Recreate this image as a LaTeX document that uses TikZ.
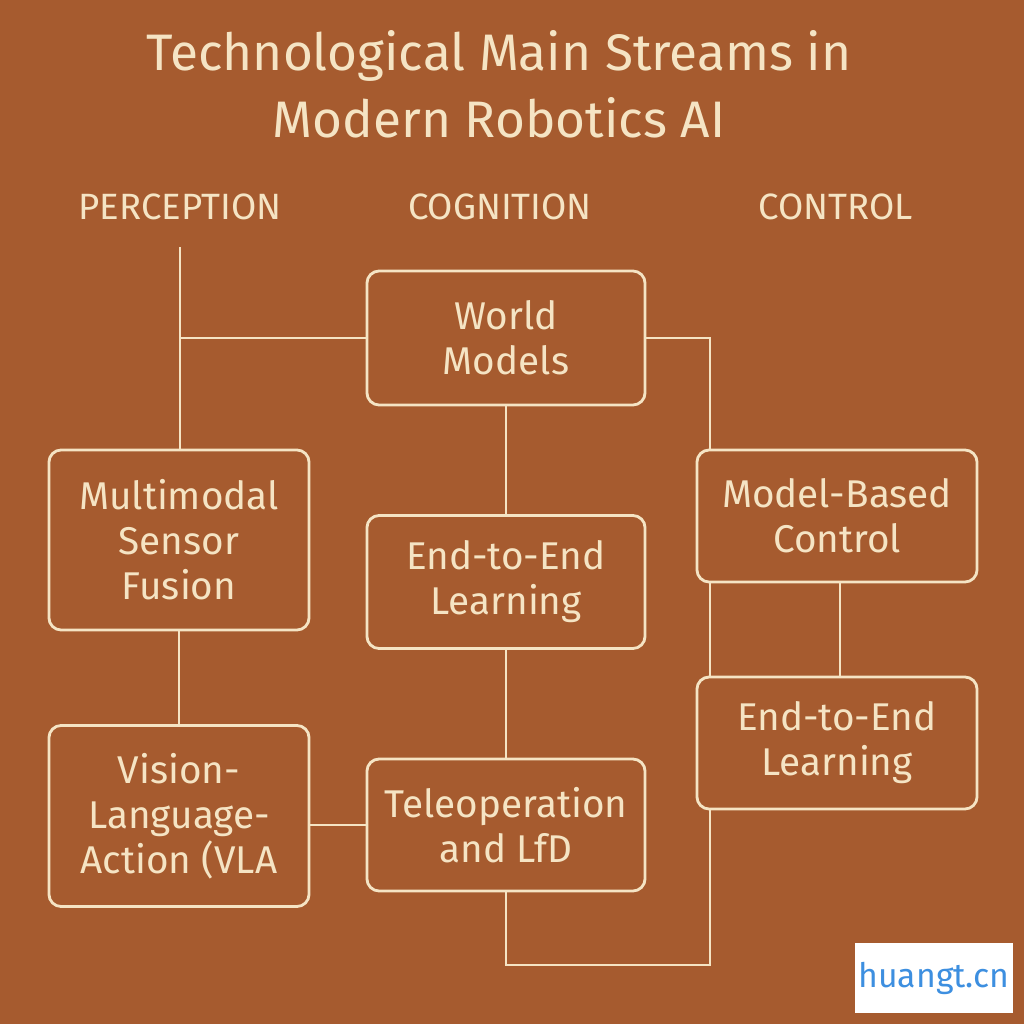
\documentclass[tikz,border=0pt]{standalone}
\usepackage{fontspec}
\setmainfont{Fira Sans}
\usetikzlibrary{positioning}
\definecolor{rust}{HTML}{A65B2F}
\definecolor{cream}{HTML}{F5E4C4}
\definecolor{wmblue}{HTML}{3D8FE0}
\tikzstyle{block} = [rectangle, rounded corners=3.5pt, draw = cream, line width=0.8pt, text = cream, align=center, font=\fontsize{11}{12.8}\selectfont]
\tikzstyle{head} = [text = cream, font=\fontsize{10.4}{12}\selectfont]
\tikzstyle{link} = [draw = cream, line width=0.8pt]

\begin{document}
\begin{tikzpicture}[x=0.01cm, y=-0.01cm]
\fill[rust] (0,0) rectangle (1024,1024);
\useasboundingbox (0,0) rectangle (1024,1024);

\node[text=cream, align=center, font=\fontsize{14.6}{19}\selectfont] (title) at (499,84) {Technological Main Streams in\\Modern Robotics AI};
\node(percep) [head] at (180,207) {PERCEPTION};
\node(cogn)   [head] at (500,207) {COGNITION};
\node(contr)  [head] at (836,207) {CONTROL};

\node(world)    [block, minimum width=2.78cm, minimum height=1.34cm] at (506,338) {World\\Models};
\node(fusion)   [block, minimum width=2.60cm, minimum height=1.80cm] at (179,540) {Multimodal\\Sensor\\Fusion};
\node(etemid)   [block, minimum width=2.78cm, minimum height=1.33cm] at (506,582) {End-to-End\\Learning};
\node(mbc)      [block, minimum width=2.80cm, minimum height=1.32cm] at (837,516) {Model-Based\\Control};
\node(vla)      [block, minimum width=2.60cm, minimum height=1.81cm] at (179,816) {Vision-\\Language-\\Action (VLA};
\node(teleop)   [block, minimum width=2.78cm, minimum height=1.32cm] at (506,825) {Teleoperation\\and LfD};
\node(eteright) [block, minimum width=2.80cm, minimum height=1.32cm] at (837,743) {End-to-End\\Learning};

\coordinate (ptop) at (180,247);
\coordinate (bot) at (506,965);
\coordinate (xr) at (710,0);
\coordinate (xc) at (840,0);

\draw [link] (ptop) -- (fusion.north -| ptop);
\draw [link] (world.west) -- (world.west -| ptop);
\draw [link] (world.east) -| (mbc.north -| xr);
\draw [link] (world) -- (etemid);
\draw [link] (etemid) -- (teleop);
\draw [link] (fusion) -- (vla);
\draw [link] (vla.east |- teleop.west) -- (teleop.west);
\draw [link] (mbc.south -| xr) -- (eteright.north -| xr);
\draw [link] (mbc.south -| xc) -- (eteright.north -| xc);
\draw [link] (teleop.south) -- (bot) -| (eteright.south -| xr);

\node(wm) [fill=white, inner sep=0pt, minimum width=1.58cm, minimum height=0.69cm, text=wmblue, font=\fontsize{9.6}{11}\selectfont] at (934,978) {huangt.cn};
\end{tikzpicture}
\end{document}
